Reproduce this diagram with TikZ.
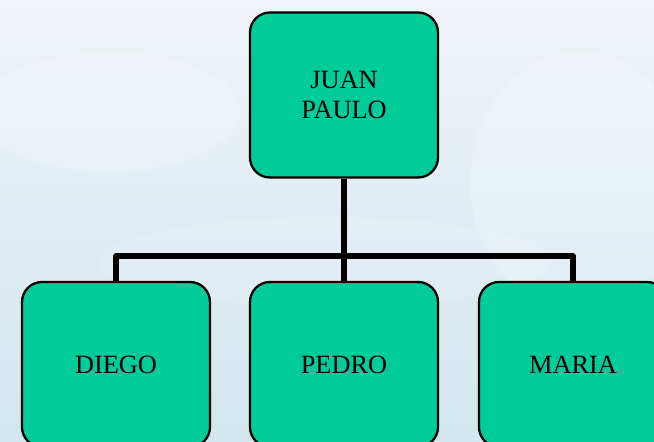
\documentclass[tikz,border=0pt]{standalone}
\usepackage{fontspec}
\setmainfont{Liberation Serif}
\definecolor{boxgreen}{RGB}{0,204,153}
\definecolor{skytop}{RGB}{240,243,247}
\definecolor{skybot}{RGB}{210,231,239}
\tikzset{
    person/.style = {draw, line width = 1.3pt, fill = boxgreen, rounded corners = 0.4cm,
                     minimum width = 3.76cm, minimum height = 3.3cm, align = center,
                     font = \fontsize{15}{17.5}\selectfont},
    link/.style = {line width = 3pt}
}

\begin{document}
\begin{tikzpicture}[line join = round]
    \useasboundingbox (0,0) rectangle (13.08,8.84);
    \clip (0,0) rectangle (13.08,8.84);
    \shade[top color = skytop, bottom color = skybot] (0,0) rectangle (13.08,8.84);
    % faint clouds
    \fill[white, opacity = 0.18] (2.2,6.6) ellipse (2.6 and 1.2);
    \fill[white, opacity = 0.18] (11.6,5.2) ellipse (2.2 and 2.6);
    \fill[white, opacity = 0.12] (6.5,3.6) ellipse (4.5 and 0.9);

    \node[person] (juan) at (6.88,6.94) {JUAN\\PAULO};
    \node[person] (diego) at (2.32,1.55) {DIEGO};
    \node[person] (pedro) at (6.88,1.55) {PEDRO};
    \node[person] (maria) at (11.46,1.55) {MARIA};

    \coordinate (fork) at (6.88,3.72);
    \draw[link] (juan.south) -- (pedro.north);
    \draw[link] (diego.north) -- (diego.north |- fork) -- (maria.north |- fork) -- (maria.north);

\end{tikzpicture}
\end{document}
